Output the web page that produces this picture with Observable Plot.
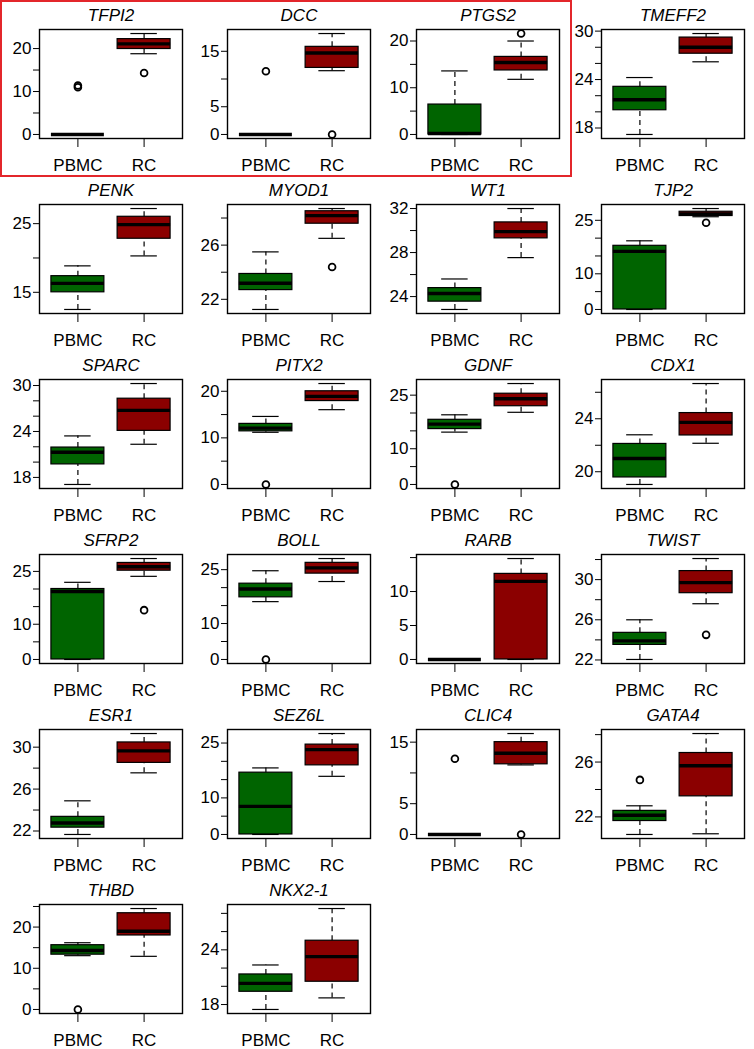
<!DOCTYPE html>
<html>
<head>
<meta charset="utf-8">
<script src="https://cdn.jsdelivr.net/npm/d3@7"></script>
<script src="https://cdn.jsdelivr.net/npm/@observablehq/plot@0.6"></script>
<style>
  html, body { margin: 0; padding: 0; background: #fff; }
  #wrap { position: relative; width: 754px; height: 1049px; overflow: hidden; font-family: "Liberation Sans", Arial, Helvetica, sans-serif; }
  .panel { position: absolute; }
  #highlight { position: absolute; left: 0px; top: 0px; width: 572px; height: 177px; border: 2px solid #e3262b; box-sizing: border-box; pointer-events: none; }
</style>
</head>
<body>
<div id="wrap"><div id="highlight"></div></div>
<script>
// ---- data ----
const genes = ["TFPI2","DCC","PTGS2","TMEFF2","PENK","MYOD1","WT1","TJP2","SPARC","PITX2","GDNF","CDX1",
               "SFRP2","BOLL","RARB","TWIST","ESR1","SEZ6L","CLIC4","GATA4","THBD","NKX2-1"];
const groups = ["PBMC","RC"];

// [lower whisker, Q1, median, Q3, upper whisker]
const pbmcStats = [
  [0,0,0,0,0],
  [0,0,0,0,0],
  [0,0,0.2,6.4,13.6],
  [17.2,20.2,21.5,23.1,24.25],
  [12.5,15.0,16.3,17.35,18.85],
  [21.25,22.68,23.18,23.87,25.5],
  [22.83,23.54,24.28,24.77,25.6],
  [0,0,16.3,17.85,19.25],
  [17.08,19.7,21.28,21.9,23.42],
  [11.2,11.4,12.1,13.0,14.6],
  [14.65,15.5,16.9,18.1,19.5],
  [19.04,19.57,21.0,22.1,22.79],
  [0,0,19.3,20.0,21.9],
  [16.1,17.3,19.6,21.1,24.7],
  [0,0,0,0,0],
  [22.05,23.5,23.9,24.7,26.0],
  [21.67,22.32,22.77,23.35,24.88],
  [0,0,7.67,16.9,18.2],
  [0,0,0,0,0],
  [20.72,21.7,22.12,22.44,22.81],
  [13.06,13.3,14.3,15.6,16.2],
  [17.46,19.4,20.32,21.3,22.34]
];
const rcStats = [
  [18.8,19.9,21.1,22.2,23.5],
  [11.5,12.0,14.7,15.8,18.2],
  [11.8,13.7,15.4,16.6,20.0],
  [26.2,27.2,28.0,29.2,29.7],
  [20.3,22.8,24.85,26.0,27.2],
  [26.5,27.58,28.18,28.5,28.7],
  [27.54,29.29,29.9,30.74,32.0],
  [26.0,26.2,26.8,27.4,28.3],
  [22.33,24.08,26.76,28.28,30.26],
  [16.05,17.9,18.9,20.0,21.66],
  [20.2,21.9,24.0,25.4,28.25],
  [22.15,22.74,23.73,24.43,26.66],
  [23.6,25.2,26.3,27.4,28.65],
  [21.7,23.9,25.5,26.9,28.1],
  [0,0,11.5,12.6,14.86],
  [27.6,28.65,29.7,30.85,32.1],
  [27.55,28.5,29.65,30.45,31.3],
  [15.9,18.9,23.2,24.57,27.6],
  [11.3,11.4,13.2,15.0,16.4],
  [20.77,23.5,25.73,26.66,28.08],
  [12.9,17.96,19.0,23.36,24.5],
  [18.73,20.5,23.26,25.0,28.53]
];
const pbmcOutliers = [[11.0,11.4],[11.4],[],[],[],[],[],[],[],[0],[0],[],[],[0],[],[],[],[],[12.3],[24.7],[0],[]];
const rcOutliers   = [[14.3],[0],[21.6],[],[],[24.38],[],[24.3],[],[],[],[],[14.0],[],[],[24.5],[],[],[0],[],[],[]];

const yTicks = [
  [0,5,10,15,20],[0,5,10,15],[0,5,10,15,20],[18,20,22,24,26,28,30],
  [15,20,25],[22,24,26,28],[24,26,28,30,32],[0,5,10,15,20,25],
  [18,20,22,24,26,28,30],[0,5,10,15,20],[0,5,10,15,20,25],[20,22,24,26],
  [0,5,10,15,20,25],[0,5,10,15,20,25],[0,5,10,15],[22,24,26,28,30,32],
  [22,24,26,28,30],[0,5,10,15,20,25],[0,5,10,15],[22,24,26,28],
  [0,5,10,15,20,25],[18,20,22,24,26,28]
];
const yLabels = [
  [0,10,20],[0,5,15],[0,10,20],[18,24,30],
  [15,25],[22,26],[24,28,32],[0,10,25],
  [18,24,30],[0,10,20],[0,10,25],[20,24],
  [0,10,25],[0,10,25],[0,5,10],[22,26,30],
  [22,26,30],[0,10,25],[0,5,15],[22,26],
  [0,10,20],[18,24]
];
const boxColors = ["#006400", "#8b0000"];

// ---- layout ----
const W = 188, H = 175;
const colLeft = [0, 188, 377, 562];
const wrap = document.getElementById("wrap");
const font = "'Liberation Sans', Arial, Helvetica, sans-serif";

genes.forEach((gene, i) => {
  const stats = [pbmcStats[i], rcStats[i]];
  const boxes = stats.map((s, j) => ({x: j + 1, lo: s[0], q1: s[1], med: s[2], q3: s[3], hi: s[4]}));
  const outs = [];
  [pbmcOutliers[i], rcOutliers[i]].forEach((arr, j) => arr.forEach(v => outs.push({x: j + 1, v})));
  const all = stats.flat().concat(outs.map(o => o.v));
  const mn = d3.min(all), mx = d3.max(all), pad = (mx - mn) * 0.04;

  const hw = 0.4, cap = 0.2;
  const marks = [
    Plot.ruleX(boxes, {x: "x", y1: "q3", y2: "hi", stroke: "black", strokeWidth: 1.2, strokeDasharray: "5,4"}),
    Plot.ruleX(boxes, {x: "x", y1: "lo", y2: "q1", stroke: "black", strokeWidth: 1.2, strokeDasharray: "5,4"}),
    Plot.ruleY(boxes, {y: "hi", x1: d => d.x - cap, x2: d => d.x + cap, stroke: "black", strokeWidth: 1.2}),
    Plot.ruleY(boxes, {y: "lo", x1: d => d.x - cap, x2: d => d.x + cap, stroke: "black", strokeWidth: 1.2}),
    ...boxes.map((b, j) => Plot.rect([b], {x1: d => d.x - hw, x2: d => d.x + hw, y1: "q1", y2: "q3", fill: boxColors[j], stroke: "black", strokeWidth: 1.2})),
    Plot.ruleY(boxes, {y: "med", x1: d => d.x - hw, x2: d => d.x + hw, stroke: "black", strokeWidth: 3.4}),
    Plot.dot(outs, {x: "x", y: "v", r: 3.4, stroke: "black", strokeWidth: 1.8, fill: "none"}),
    Plot.frame({stroke: "black", strokeWidth: 1.4}),
    Plot.text([gene], {frameAnchor: "top", lineAnchor: "middle", dy: -14, text: d => d, fontStyle: "italic", fontSize: 17, fill: "black"})
  ];

  const chart = Plot.plot({
    width: W, height: H,
    marginLeft: 39, marginRight: 6, marginTop: 29, marginBottom: 37,
    style: {fontFamily: font, fontSize: "17px", background: "transparent", color: "black", overflow: "visible"},
    x: {type: "linear", domain: [0.42, 2.58], ticks: [1, 2], tickFormat: d => groups[Math.round(d) - 1], tickSize: 9, tickPadding: 11, label: null},
    y: {type: "linear", domain: [mn - pad, mx + pad], ticks: yTicks[i], tickFormat: d => yLabels[i].includes(d) ? String(d) : "", tickSize: 6, tickPadding: 2, label: null},
    marks
  });
  const div = document.createElement("div");
  div.className = "panel";
  div.style.left = colLeft[i % 4] + "px";
  div.style.top = (Math.floor(i / 4) * H) + "px";
  div.appendChild(chart);
  wrap.insertBefore(div, document.getElementById("highlight"));
});
</script>
</body>
</html>
